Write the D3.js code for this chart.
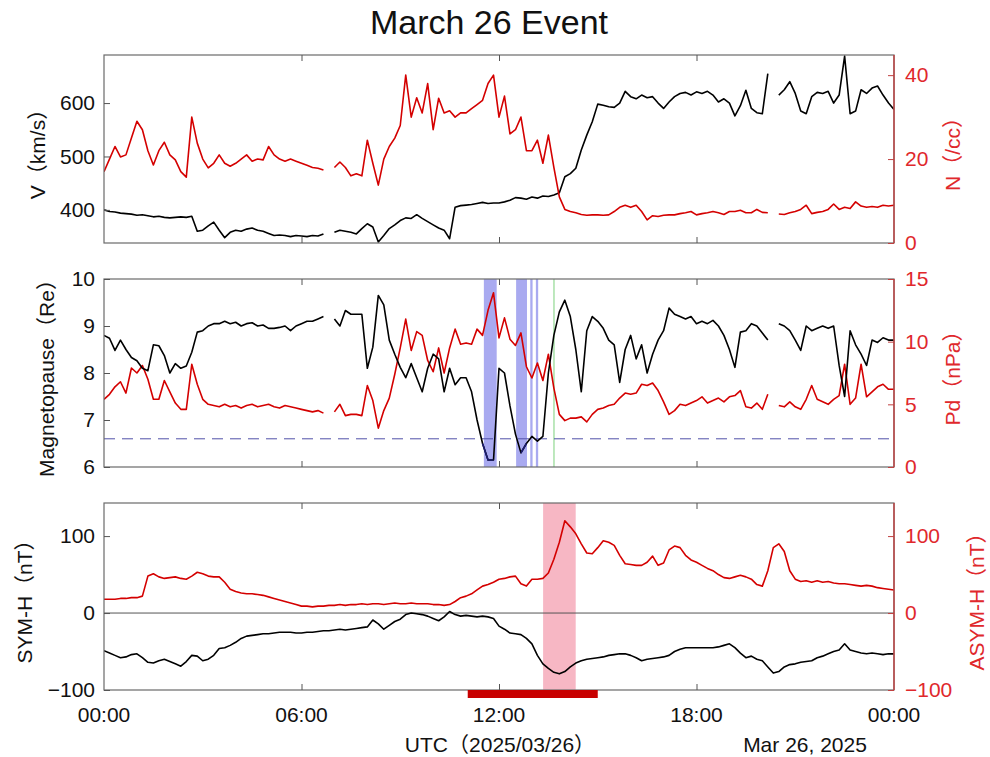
<!DOCTYPE html>
<html>
<head>
<meta charset="utf-8">
<script src="https://cdnjs.cloudflare.com/ajax/libs/d3/7.8.5/d3.min.js"></script>
<style>
body { margin: 0; background: #fff; }
svg text { font-family: "Liberation Sans", Arial, "Noto Sans CJK JP", sans-serif; }
</style>
</head>
<body>
<svg id="chart" width="990" height="757"></svg>
<script>
// one value every 10 minutes, 00:00 .. 24:00 (one row = one hour)
var stepHours = 10 / 60;

var speed = [
  400, 397, 396, 394, 393, 392,
  390, 391, 389, 387, 388, 386,
  385, 386, 387, 386, 388, 360,
  362, 370, 377, 362, 348, 358,
  362, 360, 364, 366, 362, 360,
  356, 352, 353, 352, 350, 352,
  351, 350, 352, 351, 355, null,
  358, 362, 360, 358, 355, 365,
  374, 368, 340, 352, 365, 372,
  380, 385, 384, 391, 384, 378,
  372, 366, 362, 346, 405, 408,
  409, 410, 412, 414, 412, 413,
  413, 415, 418, 423, 422, 420,
  424, 422, 426, 425, 428, 432,
  462, 468, 478, 512, 540, 565,
  598, 596, 593, 592, 600, 622,
  612, 608, 615, 610, 612, 600,
  590, 602, 612, 618, 620, 615,
  621, 618, 622, 615, 602, 608,
  600, 576, 595, 624, 590, 582,
  580, 655, null, 615, 625, 640,
  618, 585, 580, 612, 620, 618,
  622, 600, 615, 688, 580, 585,
  625, 618, 628, 632, 615, 600,
  588
];

var density = [
  17, 20, 23, 20.5, 21, 25,
  29, 27, 22, 18.6, 22, 24,
  21, 19.8, 17, 15.7, 30, 23.8,
  20, 17.9, 19, 21, 19, 18.3,
  19, 20, 21, 19.5, 20, 19.8,
  23, 21, 20, 19.5, 20, 19.5,
  19, 18.5, 18, 17.8, 17.4, null,
  18, 19.3, 18, 16, 16.5, 16,
  24.5, 19, 13.8, 20, 23, 25,
  28, 40, 30, 34.6, 31, 38,
  27, 34.5, 31, 31.5, 30, 31,
  31, 32, 33, 34, 38, 40,
  30, 35, 26, 27, 30, 22,
  22, 24.5, 19, 25.7, 18, 11,
  8, 7.5, 7.2, 6.8, 6.6, 6.7,
  6.7, 6.6, 6.7, 7.5, 8.5, 9,
  8.5, 9, 7.5, 5.5, 6.5, 6.3,
  6.6, 6.7, 6.7, 7, 7.2, 7.5,
  6.7, 7, 7.2, 7.5, 7.2, 6.8,
  7.5, 7.5, 7.8, 7.2, 7.2, 8,
  7.3, 7.2, null, 6.9, 6.8, 7.2,
  7.5, 8, 9, 7, 7.3, 7.5,
  8, 9.3, 8, 8.5, 8.2, 9.8,
  8.8, 8.5, 8.7, 8.5, 9, 8.8,
  9
];

var mpRadius = [
  8.8, 8.74, 8.48, 8.7, 8.5, 8.33,
  8.26, 8.1, 8.05, 8.6, 8.58, 8.37,
  8.0, 8.2, 8.1, 8.15, 8.44, 8.87,
  8.9, 9.0, 9.05, 9.05, 9.1, 9.05,
  9.08, 9.0, 9.05, 9.07, 9.0, 9.02,
  8.95, 8.95, 8.97, 9.0, 8.9, 9.0,
  9.05, 9.1, 9.1, 9.15, 9.2, null,
  9.15, 9.0, 9.33, 9.25, 9.25, 9.25,
  8.1, 8.55, 9.65, 9.45, 8.7, 8.4,
  8.12, 7.9, 8.2, 7.9, 7.6, 8.1,
  8.4, 8.3, 7.6, 8.1, 7.75, 7.9,
  7.9, 7.6, 7.0, 6.5, 6.15, 6.15,
  8.1, 8.0, 7.3, 6.7, 6.3, 6.5,
  6.65, 6.55, 6.65, 8.0, 8.8, 9.3,
  9.55, 9.2, 8.5, 7.6, 8.9, 9.2,
  9.1, 8.95, 8.7, 8.6, 7.8, 8.5,
  8.8, 8.3, 8.6, 8.0, 8.4, 8.7,
  8.9, 9.38, 9.25, 9.2, 9.15, 9.2,
  9.05, 9.1, 9.05, 9.12, 9.0, 8.8,
  8.5, 8.12, 8.87, 8.9, 9.05, 9.0,
  8.85, 8.7, null, 9.05, 9.0, 8.9,
  8.7, 8.48, 9.0, 8.9, 8.95, 9.0,
  8.95, 9.0, 8.16, 7.5, 8.9, 8.6,
  8.4, 8.16, 8.7, 8.65, 8.75, 8.7,
  8.7
];

var pressure = [
  5.4, 5.8, 6.4, 6.8, 5.9, 7.9,
  7.5, 8.1, 7.0, 5.4, 5.4, 6.9,
  6.0, 5.1, 4.6, 4.6, 8.2, 6.6,
  5.4, 5.0, 4.9, 4.8, 5.0, 4.8,
  4.9, 4.7, 4.9, 5.0, 4.8, 4.9,
  5.0, 4.8, 4.7, 4.9, 4.8, 4.7,
  4.6, 4.5, 4.4, 4.5, 4.3, null,
  4.4, 5.0, 4.1, 4.2, 4.2, 4.1,
  6.5, 5.3, 3.1, 4.5, 5.5, 7.4,
  9.5, 11.8, 9.3, 10.8, 10.5, 8.5,
  7.6, 9.5, 7.5, 9.5, 11.0, 9.8,
  9.9, 9.8, 11.0, 10.5, 12.5, 13.9,
  10.3, 11.9, 10.2, 9.7, 10.7, 8.0,
  7.1, 8.3, 6.9, 9.0, 6.3, 4.2,
  3.7, 3.9, 3.9, 4.0, 3.6, 4.2,
  4.6, 4.7, 4.9, 5.0, 5.5, 5.9,
  5.8, 5.9, 6.6, 6.5, 6.7, 6.1,
  5.2, 4.2, 4.5, 5.0, 4.9, 5.1,
  5.3, 5.6, 5.1, 5.3, 5.5, 5.2,
  5.6, 5.7, 6.1, 4.8, 4.7, 5.1,
  4.6, 5.8, null, 4.9, 4.8, 5.2,
  4.8, 4.6, 5.4, 6.5, 5.4, 5.2,
  5.0, 5.4, 5.7, 8.2, 5.0, 5.5,
  8.2, 5.6, 6.0, 6.4, 6.6, 6.2,
  6.2
];

var symH = [
  -49, -52, -55, -58, -57, -54,
  -53, -58, -64, -65, -62, -60,
  -63, -66, -69, -63, -55, -56,
  -62, -60, -55, -46, -45, -42,
  -38, -33, -30, -29, -28, -27,
  -27, -26, -25, -25, -25, -26,
  -26, -25, -25, -24, -23, -23,
  -22, -21, -22, -21, -20, -19,
  -18, -9, -14, -21, -16, -11,
  -8, -2, 0, -1, -2, -4,
  -7, -10, -5, 2, -2, -4,
  -3, -4, -5, -4, -5, -7,
  -17, -21, -26, -27, -28, -33,
  -40, -55, -66, -72, -77, -79,
  -76, -70, -65, -62, -60, -59,
  -58, -57, -55, -54, -53, -53,
  -55, -58, -62, -60, -59, -58,
  -57, -55, -50, -47, -45, -45,
  -45, -45, -45, -45, -44, -42,
  -40, -45, -52, -58, -56, -60,
  -62, -70, -78, -76, -70, -67,
  -66, -64, -63, -62, -58, -56,
  -53, -50, -48, -40, -48, -50,
  -52, -53, -52, -53, -54, -53,
  -53
];

var asymH = [
  18, 18, 18, 19, 19, 20,
  20, 22, 48, 51, 47, 45,
  46, 47, 45, 44, 48, 53,
  51, 48, 47, 47, 40, 31,
  28, 26, 25, 25, 24, 23,
  21, 19, 17, 15, 13, 11,
  9, 9, 8, 9, 9, 10,
  10, 11, 10, 11, 11, 12,
  11, 12, 12, 11, 12, 13,
  12, 12, 13, 12, 12, 12,
  11, 11, 10, 11, 15, 20,
  22, 25, 30, 35, 37, 40,
  44, 45, 47, 48, 38, 35,
  44, 44, 45, 52, 70, 92,
  120, 112, 103, 90, 78, 77,
  85, 94, 92, 88, 75, 64,
  63, 62, 62, 66, 74, 62,
  65, 82, 87, 85, 75, 69,
  66, 62, 58, 55, 50, 46,
  45, 47, 49, 47, 44, 37,
  35, 55, 85, 90, 80, 55,
  44, 41, 42, 40, 42, 40,
  41, 39, 38, 38, 37, 36,
  35, 36, 35, 33, 32, 31,
  30
];

var hourTicks = [0, 6, 12, 18, 24];
var hourLabels = ["00:00", "06:00", "12:00", "18:00", "00:00"];

// magnetopause inside geosynchronous orbit (hours)
var blueSpans = [[11.54, 11.93], [12.52, 12.85], [12.95, 13.02], [13.12, 13.19]];
var greenMark = 13.67;
var pinkSpan = [13.34, 14.33];
var redBar = [11.05, 15.0];
var geoOrbit = 6.6;

var red = "#d40000";
var redText = "#e0282c";

var svg = d3.select("#chart");
var x = d3.scaleLinear().domain([0, 24]).range([104, 894]);

var panels = [
  {top: 55, bottom: 243, left: speed, right: density,
   lDomain: [338, 690], rDomain: [0, 44.8], lTicks: [400, 500, 600], rTicks: [0, 20, 40],
   lTitle: "V（km/s）", rTitle: "N（/cc）", lx: 37, rx: 952},
  {top: 279, bottom: 467, left: mpRadius, right: pressure,
   lDomain: [6, 10], rDomain: [0, 15], lTicks: [6, 7, 8, 9, 10], rTicks: [0, 5, 10, 15],
   lTitle: "Magnetopause（Re）", rTitle: "Pd（nPa）", lx: 46, rx: 952},
  {top: 503, bottom: 690, left: symH, right: asymH,
   lDomain: [-100, 143], rDomain: [-100, 143], lTicks: [-100, 0, 100], rTicks: [-100, 0, 100],
   lTitle: "SYM-H（nT）", rTitle: "ASYM-H（nT）", lx: 24, rx: 976}
];

svg.append("text")
   .attr("x", 489)
   .attr("y", 34)
   .attr("text-anchor", "middle")
   .style("font-size", "34px")
   .attr("fill", "#111")
   .text("March 26 Event");

panels.forEach(function(p, k) {
  var yl = d3.scaleLinear().domain(p.lDomain).range([p.bottom, p.top]);
  var yr = d3.scaleLinear().domain(p.rDomain).range([p.bottom, p.top]);
  var g = svg.append("g");

  g.append("clipPath").attr("id", "clip" + k)
   .append("rect")
   .attr("x", x(0)).attr("y", p.top)
   .attr("width", x(24) - x(0)).attr("height", p.bottom - p.top);

  var plot = g.append("g").attr("clip-path", "url(#clip" + k + ")");

  if (k == 1) {
    plot.selectAll(".span")
        .data(blueSpans)
        .enter()
        .append("rect")
        .attr("x", function(d) { return x(d[0]); })
        .attr("width", function(d) { return x(d[1]) - x(d[0]); })
        .attr("y", p.top)
        .attr("height", p.bottom - p.top)
        .attr("fill", "#a9aaf0");
    plot.append("line")
        .attr("x1", x(greenMark)).attr("x2", x(greenMark))
        .attr("y1", p.top).attr("y2", p.bottom)
        .style("stroke", "#a8e0a8").style("stroke-width", 1.5);
    plot.append("line")
        .attr("x1", x(0)).attr("x2", x(24))
        .attr("y1", yl(geoOrbit)).attr("y2", yl(geoOrbit))
        .style("stroke", "#5050a8").style("stroke-width", 1)
        .style("stroke-dasharray", "11,7");
  }
  if (k == 2) {
    plot.append("rect")
        .attr("x", x(pinkSpan[0]))
        .attr("width", x(pinkSpan[1]) - x(pinkSpan[0]))
        .attr("y", p.top).attr("height", p.bottom - p.top)
        .attr("fill", "#f7b7c4");
    plot.append("line")
        .attr("x1", x(0)).attr("x2", x(24))
        .attr("y1", yl(0)).attr("y2", yl(0))
        .style("stroke", "#555").style("stroke-width", 1);
  }

  var lineL = d3.line()
      .defined(function(d) { return d != null; })
      .x(function(d, i) { return x(i * stepHours); })
      .y(function(d) { return yl(d); });
  var lineR = d3.line()
      .defined(function(d) { return d != null; })
      .x(function(d, i) { return x(i * stepHours); })
      .y(function(d) { return yr(d); });

  var order = (k == 1) ? ["r", "l"] : ["l", "r"];
  order.forEach(function(s) {
    plot.append("path")
        .datum(s == "l" ? p.left : p.right)
        .attr("d", s == "l" ? lineL : lineR)
        .attr("fill", "none")
        .style("stroke", s == "l" ? "#000" : red)
        .style("stroke-width", 1.6)
        .style("stroke-linejoin", "round");
  });

  if (k == 1) {
    // trace below geosynchronous orbit drawn dark blue over the spans
    plot.append("path")
        .datum(p.left.map(function(d) { return d != null && d < geoOrbit + 0.05 ? d : null; }))
        .attr("d", lineL)
        .attr("fill", "none")
        .style("stroke", "#1c1c70").style("stroke-width", 1.6);
  }

  // frame
  g.append("rect")
   .attr("x", x(0)).attr("y", p.top)
   .attr("width", x(24) - x(0)).attr("height", p.bottom - p.top)
   .attr("fill", "none").style("stroke", "#6a6a6a").style("stroke-width", 1.2);
  g.append("line")
   .attr("x1", x(24)).attr("x2", x(24))
   .attr("y1", p.top).attr("y2", p.bottom)
   .style("stroke", "#c04040").style("stroke-width", 1.4);

  var axL = g.append("g")
     .attr("transform", "translate(" + x(0) + ",0)")
     .call(d3.axisLeft(yl).tickValues(p.lTicks).tickFormat(d3.format("d"))
             .tickSizeInner(-6).tickSizeOuter(0).tickPadding(9));
  axL.select(".domain").remove();
  axL.selectAll("line").style("stroke", "#555");
  axL.selectAll("text").style("font-size", "21px").attr("fill", "#111");

  var axR = g.append("g")
     .attr("transform", "translate(" + x(24) + ",0)")
     .call(d3.axisRight(yr).tickValues(p.rTicks).tickFormat(d3.format("d"))
             .tickSizeInner(-6).tickSizeOuter(0).tickPadding(11));
  axR.select(".domain").remove();
  axR.selectAll("line").style("stroke", "#c04040");
  axR.selectAll("text").style("font-size", "21px").attr("fill", redText);

  var axT = g.append("g")
     .attr("transform", "translate(0," + p.top + ")")
     .call(d3.axisTop(x).tickValues(hourTicks.slice(1, 4)).tickSizeInner(-6).tickSizeOuter(0).tickFormat(""));
  axT.select(".domain").remove();
  axT.selectAll("line").style("stroke", "#555");

  var axB = g.append("g")
     .attr("transform", "translate(0," + p.bottom + ")")
     .call(d3.axisBottom(x).tickValues(hourTicks.slice(1, 4)).tickSizeInner(-6).tickSizeOuter(0).tickFormat(""));
  axB.select(".domain").remove();
  axB.selectAll("line").style("stroke", "#555");

  var cy = (p.top + p.bottom) / 2;
  g.append("text")
   .attr("transform", "translate(" + p.lx + "," + cy + ") rotate(-90)")
   .attr("text-anchor", "middle")
   .attr("dominant-baseline", "central")
   .style("font-size", "21px")
   .attr("fill", "#111")
   .text(p.lTitle);
  g.append("text")
   .attr("transform", "translate(" + p.rx + "," + cy + ") rotate(-90)")
   .attr("text-anchor", "middle")
   .attr("dominant-baseline", "central")
   .style("font-size", "21px")
   .attr("fill", redText)
   .text(p.rTitle);
});

// event interval bar under the last panel
svg.append("rect")
   .attr("x", x(redBar[0]))
   .attr("width", x(redBar[1]) - x(redBar[0]))
   .attr("y", 690)
   .attr("height", 8)
   .attr("fill", "#c80000");

svg.selectAll(".hlabel")
   .data(hourTicks)
   .enter()
   .append("text")
   .attr("x", function(d) { return x(d); })
   .attr("y", 722)
   .attr("text-anchor", "middle")
   .style("font-size", "21px")
   .attr("fill", "#111")
   .text(function(d, i) { return hourLabels[i]; });

svg.append("text")
   .attr("x", 500).attr("y", 752)
   .attr("text-anchor", "middle")
   .style("font-size", "21px")
   .attr("fill", "#111")
   .text("UTC（2025/03/26）");

svg.append("text")
   .attr("x", 805).attr("y", 752)
   .attr("text-anchor", "middle")
   .style("font-size", "21px")
   .attr("fill", "#111")
   .text("Mar 26, 2025");
</script>
</body>
</html>
